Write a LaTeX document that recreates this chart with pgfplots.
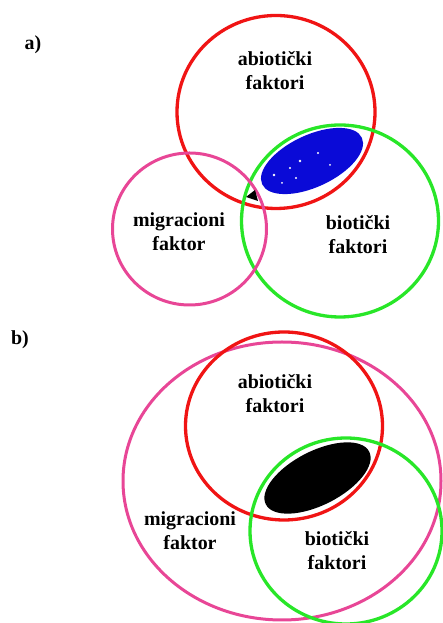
\documentclass[border=0pt]{standalone}
\usepackage{pgfplots}
\pgfplotsset{compat=1.18}
\usepackage{fontspec}
\setmainfont{Liberation Serif}
\definecolor{cred}{RGB}{240,20,20}
\definecolor{cgreen}{RGB}{40,230,40}
\definecolor{cpink}{RGB}{232,70,150}
\definecolor{cblue}{RGB}{10,10,215}
\tikzset{lbl/.style={font=\bfseries\fontsize{20}{24}\selectfont, align=center, text=black}}
\begin{document}
\begin{tikzpicture}
\begin{axis}[
  width=443bp, height=623bp, scale only axis,
  xmin=0, xmax=443, ymin=0, ymax=623,
  enlargelimits=false, axis line style={draw=none}, ticks=none,
  clip=true,
]
\addplot[draw=none, mark=none] coordinates {(0,0) (443,623)};
% ---------- panel a ----------
\draw[cred, line width=3.3bp] (axis cs:276,511) ellipse [x radius=99bp, y radius=96.5bp];
\draw[cgreen, line width=3.3bp] (axis cs:340,402) ellipse [x radius=98.5bp, y radius=96bp];
\draw[cpink, line width=3bp] (axis cs:189.5,394) ellipse [x radius=77bp, y radius=76bp];
\fill[cblue, rotate around={25:(axis cs:312,462)}] (axis cs:312,462) ellipse [x radius=55bp, y radius=26bp];
\fill[white] (axis cs:274,448) circle [radius=1.3bp];
\fill[white] (axis cs:290,455) circle [radius=1.2bp];
\fill[white] (axis cs:300,462) circle [radius=1.3bp];
\fill[white] (axis cs:318,470) circle [radius=1.1bp];
\fill[white] (axis cs:296,445) circle [radius=1.1bp];
\fill[white] (axis cs:282,440) circle [radius=1.0bp];
\fill[white] (axis cs:330,458) circle [radius=1.0bp];
\fill[black] (axis cs:246,426) -- (axis cs:255,433) -- (axis cs:258,422) -- cycle;
\node[lbl] at (axis cs:33,578) {a)};
\node[lbl] at (axis cs:275,552) {abiotički\\faktori};
\node[lbl] at (axis cs:179,391) {migracioni\\faktor};
\node[lbl] at (axis cs:358,388) {biotički\\faktori};
% ---------- panel b ----------
\draw[cpink, line width=3bp] (axis cs:282,142) ellipse [x radius=159bp, y radius=139bp];
\draw[cred, line width=3.3bp] (axis cs:284,197) ellipse [x radius=98.5bp, y radius=94bp];
\draw[cgreen, line width=3.3bp] (axis cs:346,92) ellipse [x radius=96bp, y radius=93bp];
\fill[black, rotate around={27:(axis cs:317.5,145)}] (axis cs:317.5,145) ellipse [x radius=58bp, y radius=27bp];
\node[lbl] at (axis cs:20,283) {b)};
\node[lbl] at (axis cs:275,229) {abiotički\\faktori};
\node[lbl] at (axis cs:190,92) {migracioni\\faktor};
\node[lbl] at (axis cs:337,72) {biotički\\faktori};
\end{axis}
\pgfresetboundingbox
\useasboundingbox (current axis.south west) rectangle (current axis.north east);
\end{tikzpicture}
\end{document}
